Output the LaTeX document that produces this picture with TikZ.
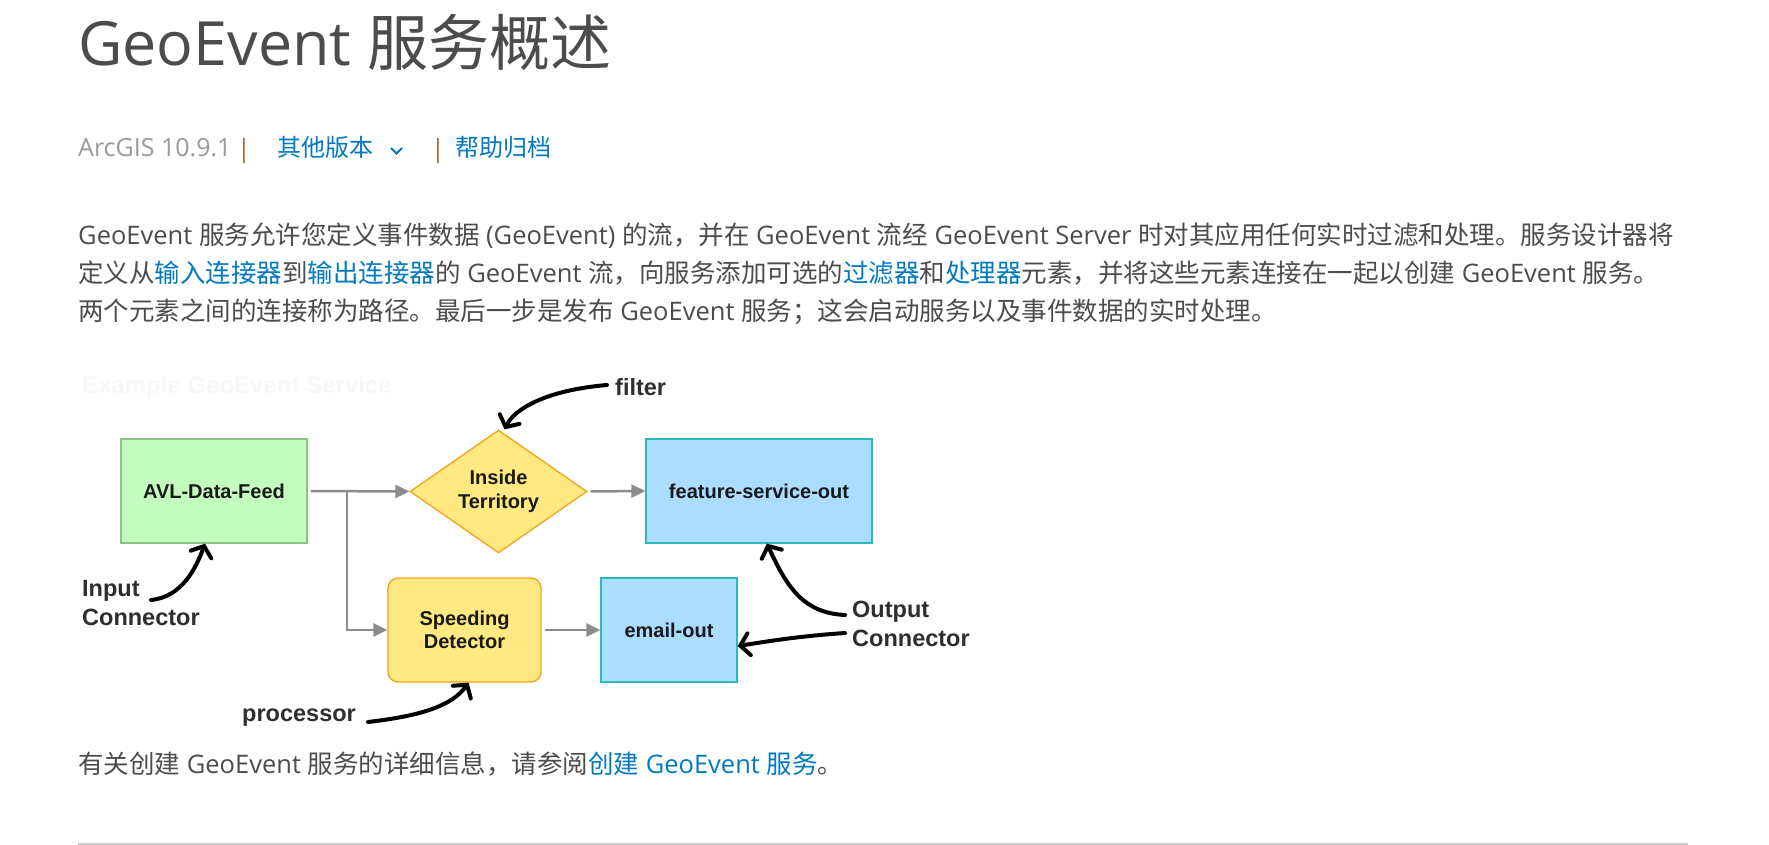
\documentclass[tikz,border=0pt]{standalone}
\usepackage{fontspec}
\setmainfont{Open Sans}
\newfontfamily\cjk{Noto Sans CJK SC}
\newfontfamily\arial{Liberation Sans}
\usetikzlibrary{arrows.meta,shapes.geometric}
\definecolor{txt}{HTML}{4C4C4C}
\definecolor{lnk}{HTML}{0079C1}
\definecolor{vgray}{HTML}{9A9A9A}
\definecolor{sep}{HTML}{A8663A}
\definecolor{conn}{HTML}{8C8C8C}
\definecolor{gfill}{HTML}{C4FCC0}
\definecolor{gdraw}{HTML}{8CC488}
\definecolor{yfill}{HTML}{FFE980}
\definecolor{ydraw}{HTML}{F7A21B}
\definecolor{bfill}{HTML}{AADDFF}
\definecolor{bdraw}{HTML}{2BBAB8}
\definecolor{ann}{HTML}{2E2E2E}
\definecolor{ghost}{HTML}{F8F8F8}
\definecolor{rule}{HTML}{CCCCCC}
\newcommand\zh[1]{{\cjk #1}}
\newcommand\lk[1]{{\color{lnk}\cjk #1}}
\tikzset{
  pagetext/.style={anchor=base west, inner sep=0pt, text=txt, font=\fontsize{25.5}{30}\selectfont},
  boxbase/.style={rectangle, line width=1.3pt, minimum height=104pt, inner sep=0pt, align=center,
    text=black!90, font=\arial\bfseries\fontsize{20}{23.5}\selectfont},
  boxg/.style={boxbase, fill=gfill, draw=gdraw},
  boxb/.style={boxbase, fill=bfill, draw=bdraw},
  boxy/.style={boxbase, fill=yfill, draw=ydraw, rounded corners=10pt},
  dia/.style={diamond, fill=yfill, draw=ydraw, line width=1.3pt, inner sep=0pt,
    minimum width=177pt, minimum height=107pt, align=center, text=black!90,
    font=\arial\bfseries\fontsize{20}{23.5}\selectfont},
  flow/.style={draw=conn, line width=2.5pt, -{Triangle[length=14pt,width=13pt]}, shorten <=3pt},
  annot/.style={anchor=west, inner sep=0pt, align=left, text=ann,
    font=\arial\bfseries\fontsize{23.5}{29}\selectfont},
  callout/.style={draw=black, line width=4pt, line cap=round,
    -{Straight Barb[length=9pt,width=22pt,line cap=round]}}
}
\begin{document}
\begin{tikzpicture}[x=1pt,y=-1pt]
\useasboundingbox (0,0) rectangle (1769,845);
\fill[white] (0,0) rectangle (1769,845);
% header
\node[anchor=base west, inner sep=0pt, text=txt, font=\fontsize{61}{70}\selectfont] (title) at (78,66) {GeoEvent \zh{服务概述}};
\node[anchor=base west, inner sep=0pt, text=vgray, font=\fontsize{25}{28}\selectfont] (ver) at (78,157) {ArcGIS 10.9.1};
\node[anchor=base west, inner sep=0pt, text=sep, font=\fontsize{25}{28}\selectfont] (sep1) at (237,158) {|};
\node[anchor=base west, inner sep=0pt, text=lnk, font=\cjk\fontsize{24}{28}\selectfont] (other) at (277,157) {其他版本};
\draw[lnk, line width=2pt] (391,148) -- (396.5,153.5) -- (402,148);
\node[anchor=base west, inner sep=0pt, text=sep, font=\fontsize{25}{28}\selectfont] (sep2) at (431,158) {|};
\node[anchor=base west, inner sep=0pt, text=lnk, font=\cjk\fontsize{24}{28}\selectfont] (help) at (455,157) {帮助归档};
% paragraph
\node[pagetext] (p1) at (78,244) {GeoEvent \zh{服务允许您定义事件数据} (GeoEvent) \zh{的流，并在} GeoEvent \zh{流经} GeoEvent Server \zh{时对其应用任何实时过滤和处理。服务设计器将}};
\node[pagetext] (p2) at (78,282) {\zh{定义从}\lk{输入连接器}\zh{到}\lk{输出连接器}\zh{的} GeoEvent \zh{流，向服务添加可选的}\lk{过滤器}\zh{和}\lk{处理器}\zh{元素，并将这些元素连接在一起以创建} GeoEvent \zh{服务。}};
\node[pagetext] (p3) at (78,320) {\zh{两个元素之间的连接称为路径。最后一步是发布} GeoEvent \zh{服务；这会启动服务以及事件数据的实时处理。}};
% ghost caption
\node[anchor=west, inner sep=0pt, text=ghost, font=\arial\bfseries\fontsize{24}{28}\selectfont] (ghost) at (82,387) {Example GeoEvent Service};
% diagram nodes
\node[boxg, minimum width=186pt] (avl) at (214,491) {AVL-Data-Feed};
\node[dia] (ins) at (498.5,491.5) {Inside\\Territory};
\node[boxb, minimum width=226pt] (fso) at (759,491) {feature-service-out};
\node[boxy, minimum width=153pt] (spd) at (464.5,630) {Speeding\\Detector};
\node[boxb, minimum width=136pt] (eml) at (669,630) {email-out};
% connectors
\coordinate (br) at (347,491);
\draw[flow] (avl.east) -- (ins.west);
\draw[flow, shorten <=0pt] (br) |- (spd.west);
\draw[flow] (ins.east) -- (fso.west);
\draw[flow] (spd.east) -- (eml.west);
% annotations
\node[annot] (filt) at (615,387) {filter};
\node[annot] (inp) at (82,603) {Input\\Connector};
\node[annot] (proc) at (242,718) {processor};
\node[annot] (outc) at (852,624) {Output\\Connector};
\coordinate (f0) at (607,385);
\coordinate (i0) at (151,600);
\coordinate (p0) at (368,722);
\coordinate (o1) at (845,615);
\coordinate (o2) at (845,633);
\draw[callout] (f0) .. controls (548,390) and (515,408) .. ([xshift=6pt]ins.north);
\draw[callout] (i0) .. controls (182,597) and (196,568) .. ([xshift=-9pt]avl.south);
\draw[callout] (p0) .. controls (420,716) and (452,706) .. ([xshift=4pt]spd.south);
\draw[callout] (o1) .. controls (805,613) and (788,590) .. ([xshift=8pt]fso.south);
\draw[callout] (o2) .. controls (800,636) and (770,641) .. ([yshift=-16pt]eml.east);
% footer
\node[pagetext] (foot) at (78,773) {\zh{有关创建} GeoEvent \zh{服务的详细信息，请参阅}{\color{lnk}\zh{创建} GeoEvent \zh{服务}}\zh{。}};
\draw[rule, line width=1.5pt] (78,844) -- (1688,844);
\end{tikzpicture}
\end{document}
